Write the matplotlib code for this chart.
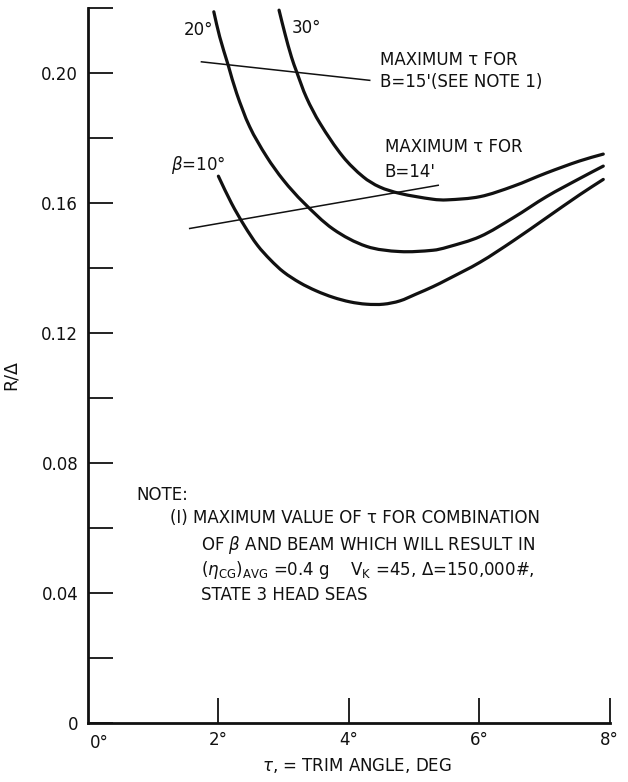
import numpy as np
import matplotlib
matplotlib.use("Agg")
import matplotlib.pyplot as plt
from matplotlib.path import Path
from matplotlib.patches import PathPatch
from matplotlib.ticker import FixedLocator, NullFormatter

plt.rcParams["font.family"] = ["DejaVu Sans"]
plt.rcParams["mathtext.fontset"] = "dejavusans"

# Resistance-to-displacement ratio vs trim angle, one curve per deadrise angle
beta10_trim = [2.00, 2.20, 2.40, 2.60, 2.80, 3.00, 3.25, 3.50, 3.76, 4.02, 4.27,
               4.53, 4.78, 5.03, 5.29, 5.50, 6.01, 6.52, 7.03, 7.54, 7.90]
beta10_r = [0.1683, 0.1600, 0.1530, 0.1470, 0.1425, 0.1388, 0.1355, 0.1330, 0.1310,
            0.1296, 0.1289, 0.1289, 0.1299, 0.1320, 0.1343, 0.1364, 0.1418, 0.1484,
            0.1555, 0.1626, 0.1673]

beta20_trim = [1.93, 2.02, 2.15, 2.28, 2.48, 2.74, 3.00, 3.30, 3.76, 4.27, 4.78,
               5.29, 5.50, 6.01, 6.52, 7.03, 7.54, 7.90]
beta20_r = [0.2189, 0.2112, 0.2025, 0.1938, 0.1835, 0.1743, 0.1670, 0.1603, 0.1520,
            0.1467, 0.1451, 0.1455, 0.1464, 0.1497, 0.1555, 0.1620, 0.1676, 0.1714]

beta30_trim = [2.93, 3.02, 3.12, 3.20, 3.35, 3.56, 3.91, 4.22, 4.47, 4.78, 5.29,
               5.50, 6.01, 6.52, 7.03, 7.54, 7.90]
beta30_r = [0.2194, 0.2122, 0.2050, 0.2004, 0.1925, 0.1845, 0.1743, 0.1681, 0.1650,
            0.1630, 0.1612, 0.1610, 0.1620, 0.1652, 0.1693, 0.1730, 0.1751]

# Maximum-trim limit lines for two beams
beam15_trim = [1.74, 4.32]
beam15_r = [0.2035, 0.1978]
beam14_trim = [1.56, 5.37]
beam14_r = [0.1522, 0.1655]

x_ticks = [2, 4, 6, 8]
x_tick_labels = ["2°", "4°", "6°", "8°"]
y_major = [0, 0.04, 0.08, 0.12, 0.16, 0.20]
y_major_labels = ["0", "0.04", "0.08", "0.12", "0.16", "0.20"]
y_minor = [0.02, 0.06, 0.10, 0.14, 0.18, 0.22]

INK = "#111111"


def smooth_path(xs, ys, sx=65.25, sy=3250.0):
    """Cubic Bezier path passing through every (x, y) point (Catmull-Rom tangents)."""
    p = np.column_stack([np.asarray(xs, float), np.asarray(ys, float)])
    q = p * [sx, sy]                       # roughly isotropic working space
    t = np.concatenate([[0], np.cumsum(np.hypot(*np.diff(q, axis=0).T))])
    n = len(p)
    tang = np.zeros_like(p)
    for i in range(n):
        a, b = max(i - 1, 0), min(i + 1, n - 1)
        tang[i] = (p[b] - p[a]) / (t[b] - t[a])
    verts = [p[0]]
    codes = [Path.MOVETO]
    for i in range(n - 1):
        h = t[i + 1] - t[i]
        verts += [p[i] + tang[i] * h / 3, p[i + 1] - tang[i + 1] * h / 3, p[i + 1]]
        codes += [Path.CURVE4] * 3
    return Path(np.array(verts), codes)


fig = plt.figure(figsize=(6.28, 7.82), dpi=100)
ax = fig.add_axes([0.140, 0.0755, 0.831, 0.914])

for xs, ys in ((beta10_trim, beta10_r), (beta20_trim, beta20_r),
               (beta30_trim, beta30_r)):
    ax.add_patch(PathPatch(smooth_path(xs, ys), facecolor="none", edgecolor=INK,
                           lw=2.3, capstyle="round", joinstyle="round"))

ax.plot(beam15_trim, beam15_r, color=INK, lw=1.1)
ax.plot(beam14_trim, beam14_r, color=INK, lw=1.1)

ax.set_xlim(0, 8)
ax.set_ylim(0, 0.22)

for side in ("top", "right"):
    ax.spines[side].set_visible(False)
for side in ("left", "bottom"):
    ax.spines[side].set_linewidth(2.0)
    ax.spines[side].set_color(INK)

ax.xaxis.set_major_locator(FixedLocator(x_ticks))
ax.set_xticklabels(x_tick_labels)
ax.yaxis.set_major_locator(FixedLocator(y_major))
ax.set_yticklabels(y_major_labels)
ax.yaxis.set_minor_locator(FixedLocator(y_minor))
ax.yaxis.set_minor_formatter(NullFormatter())

ax.tick_params(axis="both", which="both", direction="in", length=18, width=1.3,
               color=INK, labelsize=12, labelcolor=INK)
ax.tick_params(axis="x", pad=6)
ax.tick_params(axis="y", pad=7)

# origin label under the corner
ax.text(0.17, -0.0035, "0°", fontsize=12, color=INK, ha="center", va="top")

ax.set_ylabel("R/Δ", fontsize=12.5, color=INK)
ax.yaxis.set_label_coords(-0.13, 0.487)
ax.set_xlabel(r"$\tau$, = TRIM ANGLE, DEG", fontsize=12, color=INK)
ax.xaxis.set_label_coords(0.515, -0.059)
ax.xaxis.label.set_va("center")

txt = dict(color=INK, fontsize=12)
ax.text(1.47, 0.2132, "20°", ha="left", va="center", **txt)
ax.text(3.13, 0.2138, "30°", ha="left", va="center", **txt)
ax.text(1.28, 0.1717, r"$\beta$=10°", ha="left", va="center", **txt)

ax.text(4.47, 0.2040, "MAXIMUM τ FOR", ha="left", va="center", **txt)
ax.text(4.47, 0.1972, "B=15'(SEE NOTE 1)", ha="left", va="center", **txt)
ax.text(4.55, 0.1772, "MAXIMUM τ FOR", ha="left", va="center", **txt)
ax.text(4.55, 0.1695, "B=14'", ha="left", va="center", **txt)

ax.text(0.75, 0.0702, "NOTE:", ha="left", va="center", **txt)
ax.text(1.26, 0.0631, "(I) MAXIMUM VALUE OF τ FOR COMBINATION",
        ha="left", va="center", **txt)
ax.text(1.73, 0.0548, r"OF $\beta$ AND BEAM WHICH WILL RESULT IN",
        ha="left", va="center", **txt)
ax.text(1.73, 0.0471,
        r"$(\eta_{\rm CG})_{\rm AVG}$ =0.4 g    V$_{\rm K}$ =45, Δ=150,000#,",
        ha="left", va="center", **txt)
ax.text(1.73, 0.0394, "STATE 3 HEAD SEAS", ha="left", va="center", **txt)

fig.savefig("out.png", dpi=100, facecolor="white")
